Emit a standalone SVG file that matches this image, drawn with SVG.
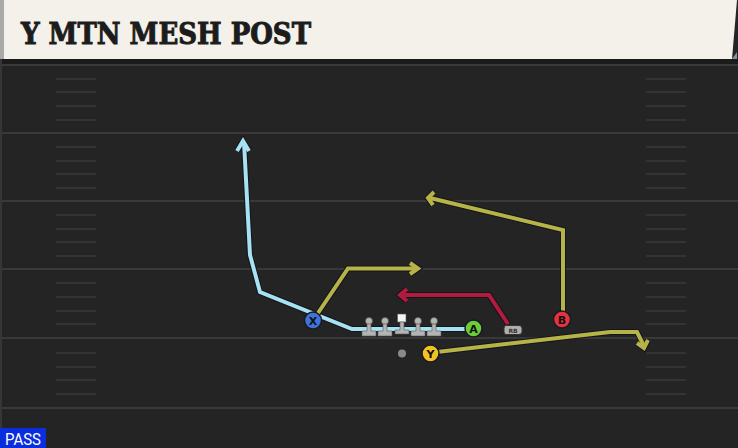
<svg xmlns="http://www.w3.org/2000/svg" width="738" height="448" viewBox="0 0 738 448">
<defs>
<style>
.yl{stroke:#393939;stroke-width:2}
.hm{stroke:#333333;stroke-width:2}
.out{fill:none;stroke:#14141c;stroke-width:6;stroke-linejoin:miter;stroke-linecap:butt}
.cy{fill:none;stroke:#a6e2f2;stroke-width:4;stroke-linejoin:miter}
.ol{fill:none;stroke:#b6b447;stroke-width:4;stroke-linejoin:miter}
.rd{fill:none;stroke:#b21b3d;stroke-width:4;stroke-linejoin:miter}
.pl{stroke:#1a1a22;stroke-width:1.5}
.lt{font-family:"DejaVu Sans",sans-serif;font-weight:bold;font-size:11px;fill:#111;text-anchor:middle}
.ln{fill:#b4b4b4;stroke:#555;stroke-width:0.6}
</style>
</defs>
<rect x="0" y="0" width="738" height="448" fill="#242424"/>
<g id="field">
<rect x="0" y="59" width="738" height="6" fill="#1b1b1b"/>
<line class="yl" x1="0" y1="65" x2="738" y2="65"/>
<line class="yl" x1="0" y1="133" x2="738" y2="133"/>
<line class="yl" x1="0" y1="201" x2="738" y2="201"/>
<line class="yl" x1="0" y1="269" x2="738" y2="269"/>
<line class="yl" x1="0" y1="338" x2="738" y2="338"/>
<line class="yl" x1="0" y1="408" x2="738" y2="408"/>
<g id="hashes-left">
<line class="hm" x1="56" y1="79" x2="96" y2="79"/><line class="hm" x1="56" y1="92" x2="96" y2="92"/><line class="hm" x1="56" y1="106" x2="96" y2="106"/><line class="hm" x1="56" y1="120" x2="96" y2="120"/>
<line class="hm" x1="56" y1="147" x2="96" y2="147"/><line class="hm" x1="56" y1="161" x2="96" y2="161"/><line class="hm" x1="56" y1="174" x2="96" y2="174"/><line class="hm" x1="56" y1="188" x2="96" y2="188"/>
<line class="hm" x1="56" y1="215" x2="96" y2="215"/><line class="hm" x1="56" y1="229" x2="96" y2="229"/><line class="hm" x1="56" y1="242" x2="96" y2="242"/><line class="hm" x1="56" y1="256" x2="96" y2="256"/>
<line class="hm" x1="56" y1="283" x2="96" y2="283"/><line class="hm" x1="56" y1="297" x2="96" y2="297"/><line class="hm" x1="56" y1="311" x2="96" y2="311"/><line class="hm" x1="56" y1="324" x2="96" y2="324"/>
<line class="hm" x1="56" y1="353" x2="96" y2="353"/><line class="hm" x1="56" y1="367" x2="96" y2="367"/><line class="hm" x1="56" y1="380" x2="96" y2="380"/><line class="hm" x1="56" y1="394" x2="96" y2="394"/>
</g>
<g id="hashes-right">
<line class="hm" x1="646" y1="79" x2="686" y2="79"/><line class="hm" x1="646" y1="92" x2="686" y2="92"/><line class="hm" x1="646" y1="106" x2="686" y2="106"/><line class="hm" x1="646" y1="120" x2="686" y2="120"/>
<line class="hm" x1="646" y1="147" x2="686" y2="147"/><line class="hm" x1="646" y1="161" x2="686" y2="161"/><line class="hm" x1="646" y1="174" x2="686" y2="174"/><line class="hm" x1="646" y1="188" x2="686" y2="188"/>
<line class="hm" x1="646" y1="215" x2="686" y2="215"/><line class="hm" x1="646" y1="229" x2="686" y2="229"/><line class="hm" x1="646" y1="242" x2="686" y2="242"/><line class="hm" x1="646" y1="256" x2="686" y2="256"/>
<line class="hm" x1="646" y1="283" x2="686" y2="283"/><line class="hm" x1="646" y1="297" x2="686" y2="297"/><line class="hm" x1="646" y1="311" x2="686" y2="311"/><line class="hm" x1="646" y1="324" x2="686" y2="324"/>
<line class="hm" x1="646" y1="353" x2="686" y2="353"/><line class="hm" x1="646" y1="367" x2="686" y2="367"/><line class="hm" x1="646" y1="380" x2="686" y2="380"/><line class="hm" x1="646" y1="394" x2="686" y2="394"/>
</g>
<rect x="0" y="59" width="2" height="389" fill="#363636"/>
</g>
<g id="header">
<polygon points="0,0 737,0 732,59 0,59" fill="#f4f1ea"/>
<polygon points="732,59 737,52 737,59" fill="#8a8f98"/>
<rect x="0" y="0" width="4" height="59" fill="#a9aaa8"/>
<text x="21" y="43.5" font-family="DejaVu Serif" font-weight="bold" font-size="29" fill="#1c1c1c" stroke="#1c1c1c" stroke-width="1" textLength="290" lengthAdjust="spacingAndGlyphs">Y MTN MESH POST</text>
</g>
<g id="connectors">
<g id="route-x-cyan">
<polyline class="out" points="465,329 352,329 260,292 250,255 244,142"/>
<polyline class="out" points="237,151 243,141 249,151"/>
<polyline class="cy" points="465,329 352,329 260,292 250,255 244,142"/>
<polyline class="cy" points="237,151 243,141 249,151"/>
</g>
<g id="route-x-olive">
<polyline class="out" points="316,316 348,268.5 416,268.5"/>
<polyline class="out" points="410,263 418,268.5 410,274"/>
<polyline class="ol" points="316,316 348,268.5 416,268.5"/>
<polyline class="ol" points="410,263 418,268.5 410,274"/>
</g>
<g id="route-b">
<polyline class="out" points="563,312 563,230 430,198"/>
<polyline class="out" points="434,192 428,198 433,205"/>
<polyline class="ol" points="563,312 563,230 430,198"/>
<polyline class="ol" points="434,192 428,198 433,205"/>
</g>
<g id="route-y">
<polyline class="out" points="437,352 610,332 637,332 644,346"/>
<polyline class="out" points="637,343 644,348 648,340"/>
<polyline class="ol" points="437,352 610,332 637,332 644,346"/>
<polyline class="ol" points="637,343 644,348 648,340"/>
</g>
<g id="route-rb">
<polyline class="out" points="508,324 489,295 402,295"/>
<polyline class="out" points="407,289 400,295 407,301"/>
<polyline class="rd" points="508,324 489,295 402,295"/>
<polyline class="rd" points="407,289 400,295 407,301"/>
</g>
</g>
<g id="lineman-1"><circle class="ln" cx="369" cy="321" r="3.5"/><path class="ln" d="M367,324 h4 v7 h5 v5 h-14 v-5 h5 z"/></g>
<g id="lineman-2"><circle class="ln" cx="385" cy="321" r="3.5"/><path class="ln" d="M383,324 h4 v7 h5 v5 h-14 v-5 h5 z"/></g>
<g id="center"><rect x="397.5" y="314" width="8.5" height="8" fill="#f4f4f4" stroke="#555" stroke-width="0.6"/><path class="ln" d="M400,322 h4 v8 h5 v4 h-14 v-4 h5 z"/></g>
<g id="lineman-3"><circle class="ln" cx="418" cy="321" r="3.5"/><path class="ln" d="M416,324 h4 v7 h5 v5 h-14 v-5 h5 z"/></g>
<g id="lineman-4"><circle class="ln" cx="434" cy="321" r="3.5"/><path class="ln" d="M432,324 h4 v7 h5 v5 h-14 v-5 h5 z"/></g>
<g id="qb"><circle cx="402" cy="353.5" r="4" fill="#8a8a8a"/></g>
<g id="player-x"><circle class="pl" cx="313" cy="320.5" r="8.5" fill="#3f73dc"/><text class="lt" x="313" y="324.5">X</text></g>
<g id="player-y"><circle class="pl" cx="430.5" cy="353.5" r="8.5" fill="#f2c224"/><text class="lt" x="430.5" y="357.5">Y</text></g>
<g id="player-a"><circle class="pl" cx="473.5" cy="328.5" r="8.5" fill="#6ccc3c"/><text class="lt" x="473.5" y="332.5">A</text></g>
<g id="player-b"><circle class="pl" cx="562" cy="319.5" r="8.5" fill="#e5323f"/><text class="lt" x="562" y="323.5">B</text></g>
<g id="player-rb"><path d="M506,325.5 h13 q3,0 3,3 v3 q0,3 -3,3 h-13 q-2,0 -2,-3 v-3 q0,-3 2,-3 z" fill="#b0b0b0" stroke="#333" stroke-width="1"/><text x="513" y="332.5" font-family="DejaVu Sans,sans-serif" font-weight="bold" font-size="6" fill="#333" text-anchor="middle">RB</text></g>
<g id="play-type"><rect x="0" y="428" width="46" height="20" fill="#0a2ede"/><text x="23" y="445" font-family="Roboto,sans-serif" font-size="17" fill="#ffffff" text-anchor="middle" textLength="36" lengthAdjust="spacingAndGlyphs">PASS</text></g>
</svg>
